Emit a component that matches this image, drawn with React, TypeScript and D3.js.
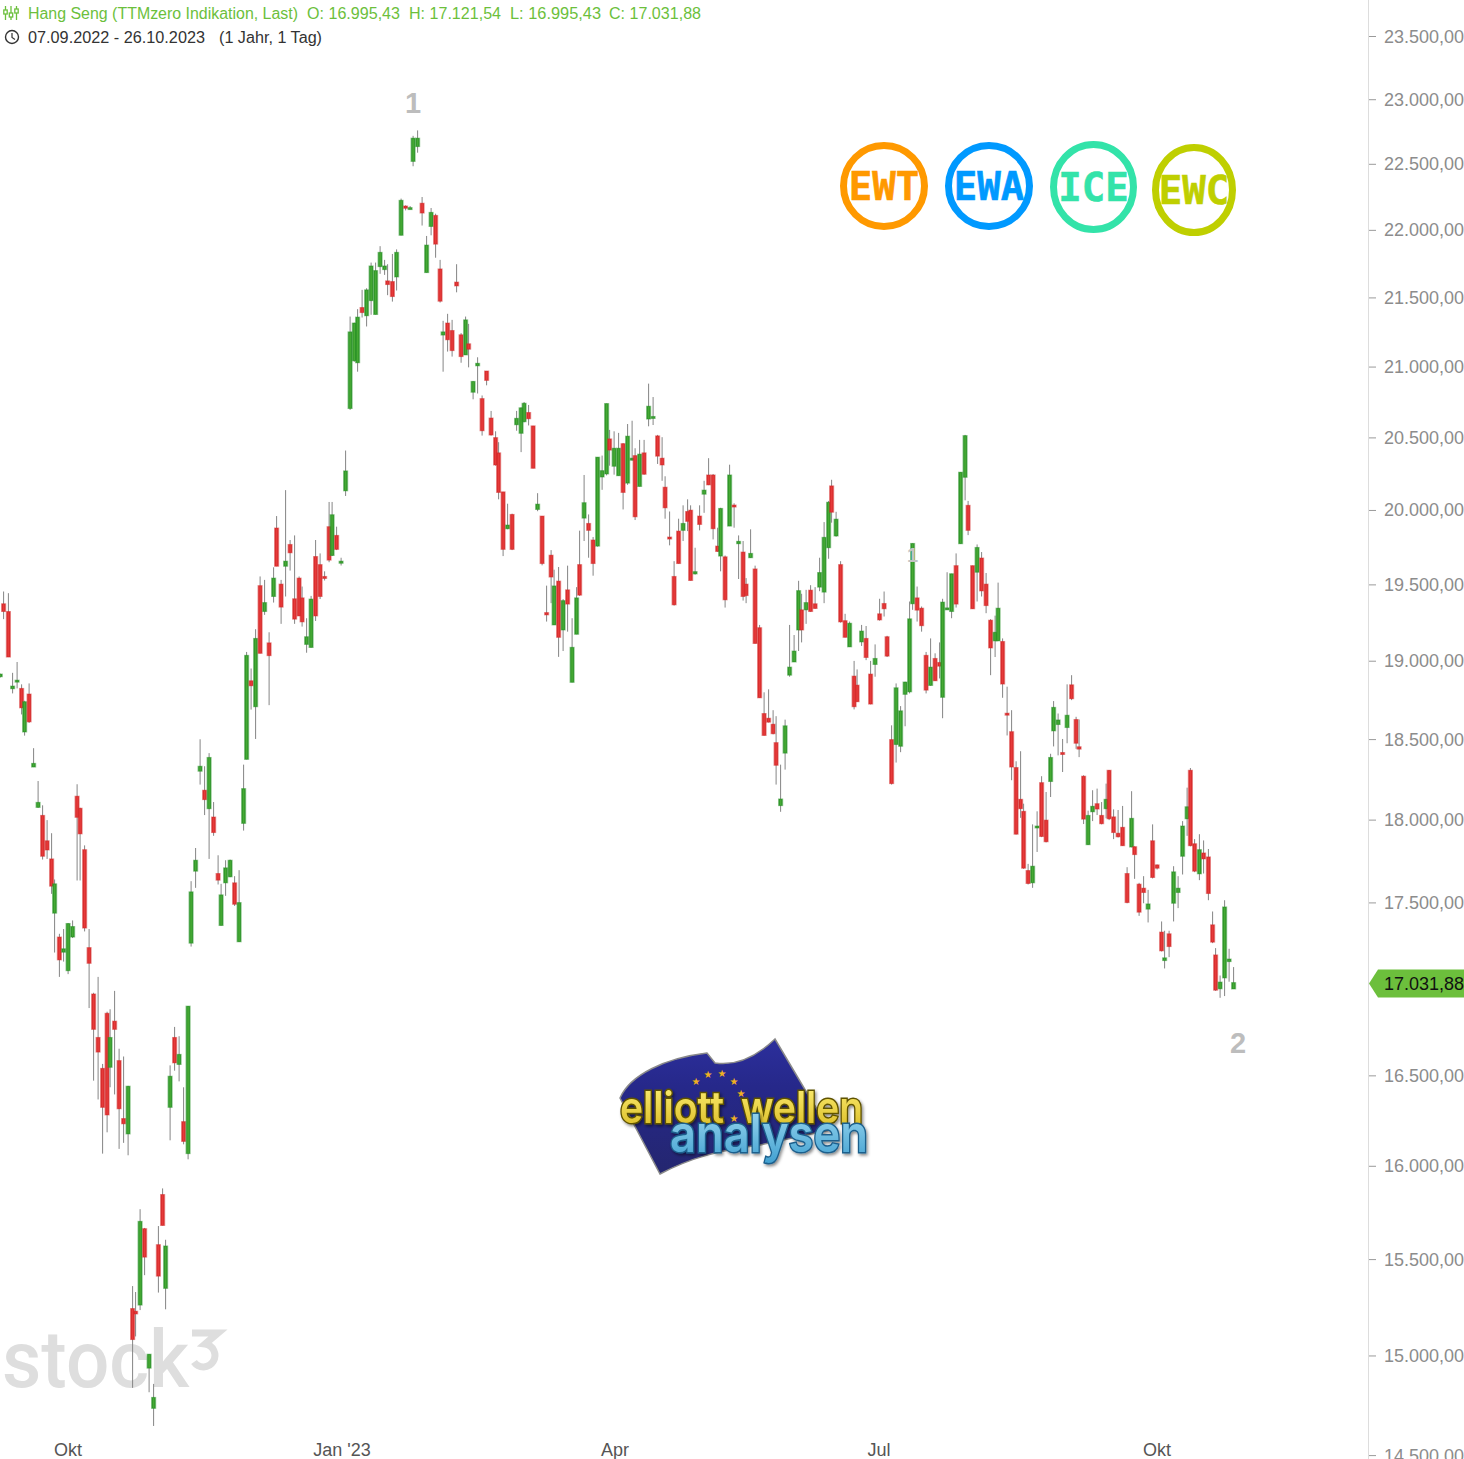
import React from "react";
import * as d3 from "d3";

// Days since the chart start (07.09.2022)
const days = [0.1,1.2,2.8,4.2,5.7,7.2,8.2,9.7,11.2,12.7,14.2,15.7,17.2,18.2,19.8,21.2,22.7,24.2,25.7,26.7,28.2,29.7,31.2,32.7,34.2,35.7,36.7,38.2,39.7,41.2,42.7,44.2,45.2,46.7,48.2,49.7,51.2,52.8,54.2,55.2,56.7,58.2,59.7,61.2,62.7,63.7,65.2,66.7,68.2,69.7,71.2,72.7,73.7,75.2,76.7,78.2,79.7,81.2,82.2,83.7,85.2,86.7,88.2,89.7,91.2,92.2,93.7,95.2,96.7,98.2,99.7,100.7,102.2,103.7,105.2,106.7,108.2,109.7,110.7,112.2,113.7,115.2,116.7,118.1,119.2,120.7,122.2,123.7,125.2,126.7,128.2,129.2,130.8,132.2,133.7,135.2,136.7,137.7,139.2,140.7,142.2,143.7,145.2,146.7,147.7,149.2,150.7,152.2,153.7,155.2,156.2,157.7,159.2,160.7,162.2,163.7,165.2,166.2,167.7,169.2,170.7,172.2,173.7,174.7,176.2,177.7,179.2,180.7,182.2,183.7,184.7,186.2,187.7,189.2,190.7,192.2,193.2,194.7,196.2,197.7,199.2,200.7,202.2,203.2,204.7,206.2,207.7,209.2,210.7,211.7,213.2,214.7,216.2,217.7,219.2,220.7,221.7,223.2,224.7,226.2,227.7,229.2,230.2,231.7,233.2,234.7,236.2,237.7,239.2,240.2,241.7,243.2,244.7,246.2,247.7,248.7,250.2,251.7,253.2,254.7,256.2,257.7,258.7,260.2,261.7,263.2,264.7,266.2,267.2,268.7,270.2,271.7,273.2,274.7,276.2,277.2,278.7,280.2,281.7,283.2,284.7,285.7,287.2,288.7,290.2,291.7,293.2,294.7,295.7,297.2,298.7,300.2,301.7,303.2,304.2,305.7,307.2,308.7,310.2,311.7,313.2,314.2,315.7,317.2,318.7,320.2,321.7,322.7,324.2,325.7,327.2,328.7,330.2,331.7,332.7,334.2,335.7,337.2,338.7,340.2,341.2,342.7,344.2,345.7,347.2,348.7,350.2,351.2,352.7,354.2,355.7,357.2,358.7,359.7,361.2,362.7,364.2,365.7,367.2,368.7,369.7,371.2,372.7,374.2,375.7,377.2,378.2,379.7,381.2,382.7,384.2,385.7,387.2,388.2,389.7,391.2,392.7,394.2,395.7,396.8,398.2,399.8,401.2,402.8,404.2,405.2,406.7,408.2,409.7,411.2];

const opens = [18900,19375,19324,18823,18872,18825,18548,18789,18328,18078,
18029,17874,17764,17439,17298,17209,17101,17298,18147,18073,
17820,17236,16966,16717,16542,16855,16548,16810,16586,16262,
16177,15244,15230,15262,15664,14938,14735,15579,15847,15349,
16324,16717,16564,16245,16069,17262,17690,18302,18184,18070,
18019,17676,17366,17620,17656,17620,17270,17980,18376,18874,
18708,19495,19324,19119,19423,19881,19505,19624,19770,19408,
19545,19414,19109,19089,19689,19635,19556,19890,19696,19831,
19644,20134,20706,21045,21031,21430,21370,21480,21379,21730,
21708,21625,21620,21654,21963,22183,22166,22522,22636,22204,
21686,22029,22112,21713,21230,21317,21263,21616,21232,21087,
21167,20821,21009,20776,20972,20639,20502,20396,20127,19876,
19973,20592,20532,20613,20678,20584,20007,19962,19317,19698,
19236,19525,19203,19467,18864,19175,19635,19948,19912,19800,
19759,20229,20250,20493,20303,20238,20460,20187,20347,20377,
20164,20396,20632,20643,20514,20359,20159,19820,19556,19860,
19865,19993,20002,19573,19962,20111,20243,20243,19759,19692,
19687,19894,20037,19775,19719,19505,19681,19606,19218,18665,
18635,18597,18481,18089,18415,18910,18995,19203,19335,19335,
19465,19375,19485,19452,19748,20168,19827,19635,19264,19093,
18904,18846,19125,19148,18917,18979,19309,19377,19159,18500,
18469,18458,18787,18803,19375,19414,19346,19038,18844,19018,
18992,18768,19340,19324,19628,19775,20227,20035,19628,19584,
19679,19505,19267,19132,19132,19128,18667,18550,18325,18128,
18054,17694,17620,17952,18231,18000,18238,18555,18595,18419,
18576,18848,18627,18455,18271,17850,18051,18101,18029,18070,
18308,18020,17920,17956,17676,17836,17838,17612,17588,17463,
17874,17728,17327,17160,17317,17498,17562,17780,18008,18308,
17856,17674,17800,17776,17370,17193,16996,17059,17154,16995];

const highs = [18920,19456,19445,18925,18995,18851,18746,18857,18446,18241,
18091,18000,17920,17640,17317,17345,17380,17396,18221,18076,
17846,17345,16973,17065,16567,16864,16878,16984,16653,16609,
16444,15361,15330,15768,15668,15009,14858,15678,15880,15605,
16559,16777,16724,16436,16896,17630,17830,18502,18333,18415,
18111,17786,17614,17756,17760,17660,17696,18343,19060,18953,
19208,19556,19533,19188,19617,19962,19533,20139,19800,19831,
19556,19489,19280,19427,19800,19710,19590,20058,20058,19890,
19681,20412,21364,21320,21418,21559,21571,21760,21760,21882,
21780,21748,21824,21858,22239,22188,22183,22719,22761,22251,
21958,22168,22125,21780,21333,21384,21340,21748,21244,21364,
21311,20898,21070,20798,20972,20689,20546,20470,20127,20046,
19978,20689,20713,20752,20731,20584,20118,19962,19495,19732,
19601,19619,19406,19628,19280,19485,19863,20243,19973,19820,
20366,20377,20741,20556,20546,20535,20463,20597,20620,20428,
20486,20486,20882,20787,20521,20505,20234,19993,19658,19944,
20035,20076,20035,19748,20035,20203,20359,20250,19883,20018,
19696,20314,20049,19831,19793,19545,19872,19628,19236,18800,
18819,18686,18648,18343,18626,19236,19170,19527,19441,19467,
19498,19485,19681,19921,20065,20210,19991,19658,19309,19258,
19002,18947,19236,19229,19002,19109,19408,19456,19165,18590,
18857,18712,18868,19390,19777,19489,19357,19060,19148,19051,
19122,19408,19584,19574,19710,20262,20521,20065,19628,19770,
19719,19579,19274,19297,19515,19148,18836,18686,18364,18427,
18101,17734,17974,18054,18271,18173,18411,18744,18665,18504,
18851,18910,18644,18627,18277,18058,18184,18194,18111,18225,
18308,18066,18062,18087,17714,18178,17840,17620,17660,17578,
17974,17730,17390,17335,17335,17720,17660,17994,18200,18322,
17884,17914,17876,17824,17449,17233,17073,17516,17229,17122];

const lows = [18895,19274,19027,18793,18825,18659,18525,18605,18328,18075,
17760,17764,17554,17207,17065,17154,17081,17292,17634,17634,
17331,16885,16473,16368,16069,16186,16436,16396,16095,16128,
16060,14838,15100,15236,15418,14816,14647,15327,15681,15240,
16142,16529,16469,16120,16038,17242,17590,18219,18031,17764,
17904,17610,17366,17542,17654,17482,17270,17936,18376,18690,
18504,19051,19302,18718,19383,19624,19243,19423,19595,19243,
19295,19225,19055,19089,19262,19406,19529,19651,19692,19732,
19629,20099,20696,21038,20967,21357,21292,21377,21379,21677,
21669,21520,21473,21554,21963,22150,22160,22485,22589,22036,
21686,21963,21796,21466,20967,21111,21075,21541,21031,21087,
20998,20771,20812,20516,20870,20516,20307,20076,19692,19872,
19732,20550,20401,20609,20587,20289,19995,19630,19258,19379,
19236,19028,19066,19192,18864,19175,19427,19793,19681,19561,
19755,20141,20240,20307,20245,20238,20007,20175,20342,19935,
20164,20245,20581,20590,20319,20203,19944,19764,19363,19642,
19793,19860,19529,19568,19865,19984,20173,19804,19721,19590,
19350,19894,19883,19539,19396,19379,19681,19115,18765,18526,
18608,18533,18219,18051,18312,18900,18995,19066,19122,19243,
19322,19342,19458,19379,19674,19917,19822,19251,19155,19093,
18691,18740,19099,19007,18723,18900,19264,19291,19027,18219,
18356,18421,18584,18793,19335,19258,19192,18793,18842,18874,
18889,18635,19340,19280,19350,19775,20069,19833,19342,19390,
19423,19313,18910,19027,19132,18765,18526,18246,17912,18014,
17704,17610,17590,17806,17896,17864,18142,18457,18401,18297,
18477,18750,18442,18390,17976,17850,17994,18031,17974,18011,
18000,17884,17894,17844,17498,17834,17644,17423,17498,17384,
17646,17700,17213,17114,17180,17390,17469,17670,17904,17840,
17684,17636,17676,17516,17262,16984,16944,16954,17037,16995];

const closes = [18917,19324,19027,18840,18878,18701,18740,18612,18351,18109,
17780,17818,17600,17614,17164,17229,17378,17360,18017,17916,
17351,17144,16763,16634,16324,16282,16717,16763,16316,16233,
16442,15084,15216,15703,15513,15009,14790,15413,15681,15572,
16498,16573,16621,16136,16896,17566,17756,18333,18126,18388,
17924,17636,17548,17710,17756,17492,17502,18194,19038,18842,
19148,19051,19383,19036,19545,19624,19353,19658,19714,19274,
19295,19256,19159,19406,19295,19423,19552,19665,19971,19737,
19658,20271,21253,21317,21360,21393,21559,21735,21701,21836,
21735,21598,21510,21836,22226,22166,22171,22701,22701,22130,
21890,22135,21897,21476,21253,21196,21118,21588,21075,21340,
21128,20898,21027,20550,20905,20520,20312,20123,19737,19901,
19737,20637,20711,20743,20634,20289,20043,19642,19302,19552,
19493,19155,19396,19373,19090,19414,19432,20053,19865,19642,
20366,20273,20741,20415,20428,20428,20123,20512,20359,19957,
20387,20248,20722,20650,20373,20312,20018,19813,19368,19642,
19912,19926,19529,19588,19905,20139,20175,19876,19723,20014,
19401,20243,20030,19791,19423,19429,19710,19115,18765,18526,
18610,18537,18339,18130,18587,18962,19066,19462,19203,19383,
19324,19344,19582,19818,20056,19988,19941,19256,19155,19247,
18708,18740,19196,19024,18725,19018,19269,19342,19033,18225,
18829,18682,18866,19276,19777,19333,19231,18814,18962,18874,
18968,19386,19348,19574,19373,20262,20516,19865,19342,19750,
19460,19363,19086,19188,19346,18853,18659,18328,17914,18070,
17708,17616,17720,17964,17900,17868,18388,18704,18624,18411,
18654,18759,18477,18440,18006,18029,18085,18068,17978,18128,
18008,17924,17898,17844,17502,18011,17790,17445,17562,17494,
17652,17708,17217,17176,17242,17686,17588,17964,18082,17844,
17690,17820,17764,17556,17268,16988,17035,17476,17169,17032];

const priceTicks = [23500,23000,22500,22000,21500,21000,20500,20000,19500,19000,18500,18000,17500,16500,16000,15500,15000,14500];
const monthLabels = ["Okt","Jan '23","Apr","Jul","Okt"];
const monthDays = [22.7,114,205,293,385.7];
const badgeLabels = ["EWT","EWA","ICE","EWC"];
const badgeColors = ["#ff9900","#0099ff","#33e3a9","#bfcf00"];
const headerLabels = ["Hang Seng (TTMzero Indikation, Last)","O: 16.995,43","H: 17.121,54","L: 16.995,43","C: 17.031,88"];
const lastClose = 17031.88;

const FONT = "'Liberation Sans', Arial, sans-serif";
const fmt = (v: number) => d3.format(",.2f")(v).replace(/,/g, "#").replace(".", ",").replace(/#/g, ".");

const x = d3.scaleLinear().domain([0, 488]).range([0, 1464]);
const y = d3.scaleLog().domain([14500, 23500]).range([1455.6, 36.5]);

function Candle({ i }: { i: number }) {
  const cx = x(days[i]);
  const up = closes[i] >= opens[i];
  const t = y(Math.max(opens[i], closes[i]));
  const b = y(Math.min(opens[i], closes[i]));
  const h = Math.max(b - t, 2);
  const main = up ? "#2c9428" : "#d62b2b";
  const hi = up ? "#46a934" : "#e63a3a";
  return (
    <g>
      <line x1={cx} x2={cx} y1={y(highs[i])} y2={y(lows[i])} stroke="#858585" strokeWidth={1} />
      <rect x={cx - 2.6} width={5.2} y={t - 0.5} height={h + 1} fill={main} opacity={0.5} />
      <rect x={cx - 1.8} width={3.6} y={t} height={h} fill={main} />
      <rect x={cx - 0.8} width={1.6} y={t + 0.6} height={Math.max(h - 1.2, 0.6)} fill={hi} />
    </g>
  );
}

function Logo() {
  return (
    <g>
      <defs>
        <linearGradient id="flag" x1="0" y1="0" x2="0" y2="1">
          <stop offset="0" stopColor="#2c2f9c" />
          <stop offset="0.35" stopColor="#26288a" />
          <stop offset="1" stopColor="#24266f" />
        </linearGradient>
        <linearGradient id="gold" x1="0" y1="0" x2="0" y2="1">
          <stop offset="0" stopColor="#fff27a" />
          <stop offset="1" stopColor="#d8b81e" />
        </linearGradient>
        <linearGradient id="aqua" x1="0" y1="0" x2="0" y2="1">
          <stop offset="0" stopColor="#a3dcf2" />
          <stop offset="1" stopColor="#3f9fd0" />
        </linearGradient>
        <filter id="soft" x="-10%" y="-20%" width="120%" height="140%">
          <feDropShadow dx="1.5" dy="2" stdDeviation="1.5" floodColor="#000" floodOpacity="0.45" />
        </filter>
      </defs>
      <path d="M620 1098 C630 1075 665 1058 707 1053 L715 1063 C735 1066 755 1058 775 1039 L807 1093 L830 1130 L760 1145 C720 1150 690 1158 660 1174 Z" fill="url(#flag)" stroke="#8a8a8a" strokeWidth={1.5} />
      {[[708,1078],[722,1077],[734,1085],[741,1097],[696,1085],[734,1122]].map(([a, b], k) => (
        <text key={k} x={a} y={b} fontSize={10} fill="#f0b020" textAnchor="middle" fontFamily="'DejaVu Sans', sans-serif">★</text>
      ))}
      <g filter="url(#soft)">
        <text x={620} y={1123} fontFamily="Inter, sans-serif" fontSize={44} fontWeight={600} fill="url(#gold)" stroke="#5f5200" strokeWidth={3} paintOrder="stroke" textLength={104} lengthAdjust="spacingAndGlyphs">elliott</text>
        <text x={741} y={1123} fontFamily="Inter, sans-serif" fontSize={44} fontWeight={600} fill="url(#gold)" stroke="#5f5200" strokeWidth={3} paintOrder="stroke" textLength={122} lengthAdjust="spacingAndGlyphs">wellen</text>
      </g>
      <text x={670} y={1152} filter="url(#soft)" fontFamily="Inter, sans-serif" fontSize={52} fontWeight={600} fill="url(#aqua)" stroke="#1c5f8c" strokeWidth={3} paintOrder="stroke" textLength={198} lengthAdjust="spacingAndGlyphs">analysen</text>
    </g>
  );
}

export default function App() {
  const idx = d3.range(days.length);
  const ly = y(lastClose) + 1;
  return (
    <svg width={1464} height={1459} viewBox="0 0 1464 1459" style={{ position: "absolute", left: 0, top: 0, display: "block", background: "#fff" }}>
      {/* watermark */}
      <text x={2} y={1387} fontFamily="Roboto, sans-serif" fontSize={80} fontWeight={500} fill="#dedede" textLength={187} lengthAdjust="spacingAndGlyphs">stock</text>
      <path d="M192 1333 H218 L205 1344 A 11.5 11.5 0 1 1 194 1362" fill="none" stroke="#dedede" strokeWidth={7} />

      {/* axis */}
      <line x1={1368.5} x2={1368.5} y1={0} y2={1459} stroke="#dddddd" />
      {priceTicks.map((t) => (
        <g key={t}>
          <line x1={1369} x2={1376} y1={y(t)} y2={y(t)} stroke="#9a9a9a" />
          <text x={1384} y={y(t) + 6} fontFamily={FONT} fontSize={18} fill="#8c8c8c">{fmt(t)}</text>
        </g>
      ))}
      {monthLabels.map((m, i) => (
        <text key={i} x={x(monthDays[i])} y={1456} textAnchor="middle" fontFamily={FONT} fontSize={18} fill="#555">{m}</text>
      ))}

      {/* candles */}
      {idx.map((i) => <Candle key={i} i={i} />)}

      {/* last price */}
      <path d={`M1369 ${ly} L1378 ${ly - 14} H1464 V${ly + 14} H1378 Z`} fill="#6cbf3c" />
      <text x={1384} y={ly + 6} fontFamily={FONT} fontSize={18} fill="#111">{fmt(lastClose)}</text>

      {/* wave labels */}
      <text x={413} y={113} textAnchor="middle" fontFamily={FONT} fontWeight={700} fontSize={29} fill="#bdbdbd">1</text>
      <text x={1238} y={1053} textAnchor="middle" fontFamily={FONT} fontWeight={700} fontSize={29} fill="#bdbdbd">2</text>
      <text x={912.5} y={562} textAnchor="middle" fontFamily={FONT} fontWeight={700} fontSize={20} fill="#c4c4c4">1</text>

      {/* badges */}
      {badgeLabels.map((b, i) => {
        const cx = [884, 989, 1093.5, 1194][i];
        const cy = [186, 186, 187, 190][i];
        const rx = [40.5, 40.5, 40, 38.5][i];
        const ry = [40.5, 40.5, 42.5, 42.5][i];
        return (
          <g key={b}>
            <ellipse cx={cx} cy={cy} rx={rx} ry={ry} fill="#fff" stroke={badgeColors[i]} strokeWidth={7} />
            <text x={cx} y={cy + 14} textAnchor="middle" fontFamily="'DejaVu Sans Mono', monospace" fontWeight={700} fontSize={39} stroke={badgeColors[i]} strokeWidth={0.6} fill={badgeColors[i]}>{b}</text>
          </g>
        );
      })}

      <Logo />

      {/* header */}
      <g stroke="#6cbf3c" strokeWidth={1.3} fill="none">
        <path d="M5.5 6 V20 M11 6 V20 M16.5 6 V20" />
        <rect x={3.8} y={10} width={3.4} height={4} fill="#fff" />
        <rect x={9.3} y={13} width={3.4} height={4} fill="#fff" />
        <rect x={14.8} y={9} width={3.4} height={4} fill="#fff" />
      </g>
      {headerLabels.map((t, i) => (
        <text key={i} x={[28, 307, 409, 510, 609][i]} y={19} fontFamily={FONT} fontSize={16} fill="#6cbf3c" textLength={[270, 93, 92, 91, 92][i]} lengthAdjust="spacingAndGlyphs">{t}</text>
      ))}
      <circle cx={12} cy={37} r={6.5} fill="none" stroke="#333" strokeWidth={1.4} />
      <path d="M12 33 V37.5 L15 39.5" fill="none" stroke="#333" strokeWidth={1.2} />
      <text x={28} y={43} fontFamily={FONT} fontSize={16} fill="#333" textLength={177} lengthAdjust="spacingAndGlyphs">07.09.2022 - 26.10.2023</text>
      <text x={219} y={43} fontFamily={FONT} fontSize={16} fill="#333" textLength={103} lengthAdjust="spacingAndGlyphs">(1 Jahr, 1 Tag)</text>
    </svg>
  );
}
